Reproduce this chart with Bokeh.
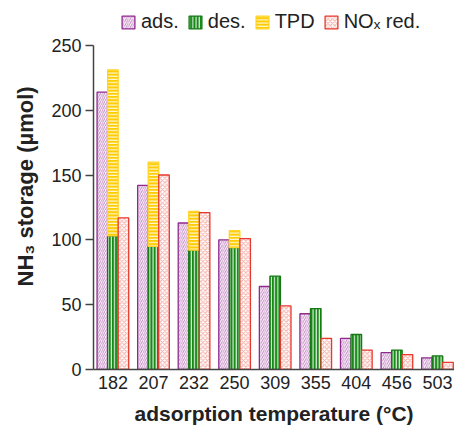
from bokeh.plotting import figure
from bokeh.models import (ColumnDataSource, Legend, LegendItem, FixedTicker,
                          Range1d, Title, CDSView, BooleanFilter)
from bokeh.transform import dodge
from bokeh.embed import file_html
from bokeh.resources import INLINE

# ---- data ----
temps = ["182", "207", "232", "250", "309", "355", "404", "456", "503"]
ads = [214, 142, 113, 100, 64, 43, 24, 13, 9]
des = [103, 95, 92, 94, 72, 47, 27, 15, 10.5]
tpd = [128, 65, 30, 13, 0, 0, 0, 0, 0]
nox_red = [117, 150, 121, 101, 49, 24, 15, 11.5, 5.5]
y_ticks = [0, 50, 100, 150, 200, 250]
series_names = ["ads.", "des.", "TPD", "NO\u2093 red."]

x_idx = list(range(len(temps)))
src = ColumnDataSource(dict(
    x=x_idx, ads=ads, des=des,
    tpd_top=[d + t for d, t in zip(des, tpd)],
    nox=nox_red,
))
tpd_view = CDSView(filter=BooleanFilter([t > 0 for t in tpd]))

FONT = "Liberation Sans"

# frame spans canvas y 0..371 so the legend can sit inside it
p = figure(width=454, height=427, output_backend="svg", toolbar_location=None,
           x_range=Range1d(-0.478, 8.42), y_range=Range1d(0, 284.6),
           min_border_left=91, min_border_right=0, min_border_top=0,
           min_border_bottom=56)
p.outline_line_color = None
p.xgrid.visible = False
p.ygrid.visible = False
p.background_fill_color = "white"

W = 0.26
r_ads = p.vbar(x=dodge("x", -W, range=p.x_range), top="ads", bottom=0, width=W,
               source=src, fill_color="white", line_color="#8E2A8E", line_width=1.3,
               hatch_pattern="/", hatch_color="#C68AC6", hatch_scale=4.2, hatch_weight=1)
r_des = p.vbar(x=dodge("x", 0, range=p.x_range), top="des", bottom=0, width=W,
               source=src, fill_color="#178A17", line_color="#147814", line_width=1.3,
               hatch_pattern="|", hatch_color="white", hatch_scale=3.2, hatch_weight=1)
r_tpd = p.vbar(x=dodge("x", 0, range=p.x_range), top="tpd_top", bottom="des", width=W,
               source=src, view=tpd_view, fill_color="#FFCC00", line_color="#FFD426",
               line_width=1.3, hatch_pattern="-", hatch_color="white",
               hatch_scale=3.2, hatch_weight=1)
r_nox = p.vbar(x=dodge("x", W, range=p.x_range), top="nox", bottom=0, width=W,
               source=src, fill_color="white", line_color="#E8372C", line_width=1.3,
               hatch_pattern="x", hatch_color="#F4AAA2", hatch_scale=4.5, hatch_weight=1)

# axes
xa = p.xaxis[0]
xa.ticker = FixedTicker(ticks=x_idx)
xa.major_label_overrides = {i: t for i, t in zip(x_idx, temps)}
xa.major_tick_out = 0
xa.major_tick_in = 0
xa.minor_tick_out = 0
xa.minor_tick_in = 0
xa.axis_line_color = "#444444"
xa.axis_line_width = 1.5
xa.major_label_text_font = FONT
xa.major_label_text_font_size = "18px"
xa.major_label_text_color = "#222222"
xa.major_label_standoff = 6
xa.axis_label = "adsorption temperature (\u00b0C)"
xa.axis_label_text_font = FONT
xa.axis_label_text_font_size = "21px"
xa.axis_label_text_font_style = "bold"
xa.axis_label_text_color = "#222222"
xa.axis_label_standoff = 10

ya = p.yaxis[0]
ya.ticker = FixedTicker(ticks=y_ticks)
ya.bounds = (0, 250)
ya.major_tick_out = 8
ya.major_tick_in = 0
ya.minor_tick_out = 0
ya.minor_tick_in = 0
ya.major_tick_line_color = "#444444"
ya.major_tick_line_width = 1.5
ya.axis_line_color = "#444444"
ya.axis_line_width = 1.5
ya.major_label_text_font = FONT
ya.major_label_text_font_size = "18px"
ya.major_label_text_color = "#222222"
ya.major_label_standoff = 4

ytitle = Title(text="NH\u2083 storage (\u00b5mol)", align="left", offset=83,
               text_font=FONT, text_font_size="22px", text_font_style="bold",
               text_color="#222222", standoff=21)
p.add_layout(ytitle, "left")

legend = Legend(items=[
    LegendItem(label=series_names[0], renderers=[r_ads]),
    LegendItem(label=series_names[1], renderers=[r_des]),
    LegendItem(label=series_names[2], renderers=[r_tpd]),
    LegendItem(label=series_names[3], renderers=[r_nox]),
], orientation="horizontal", location=(27, 336),
    glyph_width=16, glyph_height=16, label_standoff=5, spacing=8,
    padding=0, margin=0, border_line_color=None, background_fill_alpha=0,
    label_text_font=FONT, label_text_font_size="20px", label_text_color="#222222")
p.add_layout(legend, "center")

open("out.html", "w").write(file_html(p, INLINE))
